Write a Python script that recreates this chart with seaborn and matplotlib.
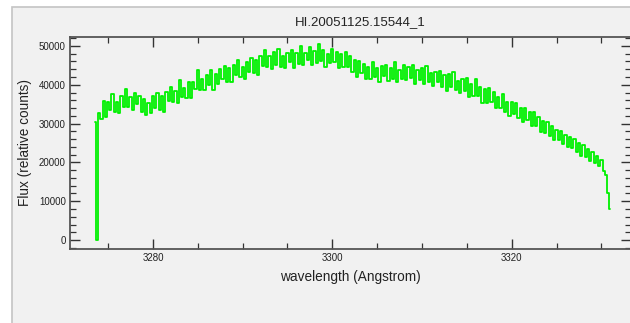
import matplotlib
matplotlib.use("Agg")
import matplotlib.pyplot as plt
from matplotlib.patches import Rectangle
from matplotlib.ticker import MultipleLocator
import seaborn as sns
import pandas as pd

title = "HI.20051125.15544_1"
xlabel = "wavelength (Angstrom)"
ylabel = "Flux (relative counts)"
xticks = [3280, 3300, 3320]
yticks = [0, 10000, 20000, 30000, 40000, 50000]

wavelength = [
    3273.50, 3273.75,
    3274.00, 3274.25, 3274.50, 3274.75,
    3275.00, 3275.25, 3275.50, 3275.75,
    3276.00, 3276.25, 3276.50, 3276.75,
    3277.00, 3277.25, 3277.50, 3277.75,
    3278.00, 3278.25, 3278.50, 3278.75,
    3279.00, 3279.25, 3279.50, 3279.75,
    3280.00, 3280.25, 3280.50, 3280.75,
    3281.00, 3281.25, 3281.50, 3281.75,
    3282.00, 3282.25, 3282.50, 3282.75,
    3283.00, 3283.25, 3283.50, 3283.75,
    3284.00, 3284.25, 3284.50, 3284.75,
    3285.00, 3285.25, 3285.50, 3285.75,
    3286.00, 3286.25, 3286.50, 3286.75,
    3287.00, 3287.25, 3287.50, 3287.75,
    3288.00, 3288.25, 3288.50, 3288.75,
    3289.00, 3289.25, 3289.50, 3289.75,
    3290.00, 3290.25, 3290.50, 3290.75,
    3291.00, 3291.25, 3291.50, 3291.75,
    3292.00, 3292.25, 3292.50, 3292.75,
    3293.00, 3293.25, 3293.50, 3293.75,
    3294.00, 3294.25, 3294.50, 3294.75,
    3295.00, 3295.25, 3295.50, 3295.75,
    3296.00, 3296.25, 3296.50, 3296.75,
    3297.00, 3297.25, 3297.50, 3297.75,
    3298.00, 3298.25, 3298.50, 3298.75,
    3299.00, 3299.25, 3299.50, 3299.75,
    3300.00, 3300.25, 3300.50, 3300.75,
    3301.00, 3301.25, 3301.50, 3301.75,
    3302.00, 3302.25, 3302.50, 3302.75,
    3303.00, 3303.25, 3303.50, 3303.75,
    3304.00, 3304.25, 3304.50, 3304.75,
    3305.00, 3305.25, 3305.50, 3305.75,
    3306.00, 3306.25, 3306.50, 3306.75,
    3307.00, 3307.25, 3307.50, 3307.75,
    3308.00, 3308.25, 3308.50, 3308.75,
    3309.00, 3309.25, 3309.50, 3309.75,
    3310.00, 3310.25, 3310.50, 3310.75,
    3311.00, 3311.25, 3311.50, 3311.75,
    3312.00, 3312.25, 3312.50, 3312.75,
    3313.00, 3313.25, 3313.50, 3313.75,
    3314.00, 3314.25, 3314.50, 3314.75,
    3315.00, 3315.25, 3315.50, 3315.75,
    3316.00, 3316.25, 3316.50, 3316.75,
    3317.00, 3317.25, 3317.50, 3317.75,
    3318.00, 3318.25, 3318.50, 3318.75,
    3319.00, 3319.25, 3319.50, 3319.75,
    3320.00, 3320.25, 3320.50, 3320.75,
    3321.00, 3321.25, 3321.50, 3321.75,
    3322.00, 3322.25, 3322.50, 3322.75,
    3323.00, 3323.25, 3323.50, 3323.75,
    3324.00, 3324.25, 3324.50, 3324.75,
    3325.00, 3325.25, 3325.50, 3325.75,
    3326.00, 3326.25, 3326.50, 3326.75,
    3327.00, 3327.25, 3327.50, 3327.75,
    3328.00, 3328.25, 3328.50, 3328.75,
    3329.00, 3329.25, 3329.50, 3329.75,
    3330.00, 3330.25, 3330.50, 3330.75,
    3331.00,
]

flux = [
    30500, 0,
    32800, 31100, 35900, 31800,
    35500, 33600, 37500, 33000,
    35600, 32800, 37200, 34400,
    38900, 34200, 36900, 33400,
    37800, 35100, 37100, 33100,
    36300, 32100, 35400, 32800,
    37000, 34000, 37800, 33500,
    37100, 33000, 38100, 35800,
    39300, 35600, 38500, 35400,
    41100, 36900, 39100, 36700,
    40800, 36600, 40700, 38800,
    43700, 38600, 41400, 38600,
    42500, 39900, 43900, 38700,
    42700, 40200, 44000, 41600,
    44900, 40700, 44300, 40700,
    45100, 42400, 46400, 41900,
    44700, 41500, 45900, 43300,
    46900, 42900, 46300, 42500,
    47300, 44900, 48900, 44500,
    47300, 44100, 48400, 45200,
    49100, 44700, 47400, 44300,
    48300, 45800, 49000, 44300,
    48200, 45400, 49900, 45100,
    48200, 46400, 49700, 45100,
    48700, 45500, 50400, 46000,
    49000, 44600, 47900, 45500,
    49200, 45900, 48400, 44300,
    47800, 44700, 48400, 44700,
    47500, 43300, 46300, 42100,
    46200, 43000, 45400, 41400,
    44700, 41600, 45900, 42000,
    44200, 40700, 44800, 42200,
    45200, 41000, 44200, 41400,
    45800, 40800, 43800, 41600,
    45000, 41100, 44500, 41800,
    45200, 40100, 43800, 41300,
    44200, 40300, 44800, 40700,
    42900, 39600, 43200, 40700,
    43500, 39400, 42400, 38500,
    42700, 39400, 43200, 38600,
    41000, 37900, 41500, 38500,
    41700, 36900, 40100, 37100,
    41400, 37000, 39500, 35200,
    38800, 35300, 39100, 35600,
    38100, 34000, 36900, 34000,
    37500, 33000, 35500, 32000,
    35600, 32500, 35400, 31500,
    34000, 30500, 34000, 30900,
    33000, 29400, 32900, 29300,
    31700, 27800, 30600, 27600,
    30500, 26700, 29300, 25800,
    28400, 25900, 28100, 24800,
    27000, 23900, 26600, 23600,
    26000, 22700, 24900, 21700,
    24400, 21400, 23400, 20400,
    22700, 19900, 21700, 19000,
    20500, 17700, 16800, 12100,
    8000,
]

n = min(len(wavelength), len(flux))
df = pd.DataFrame({"wavelength": wavelength[:n], "flux": flux[:n]})

sns.set_theme(style="ticks")
plt.rcParams["font.family"] = ["Liberation Sans", "DejaVu Sans"]

W, H = 630, 323
fig = plt.figure(figsize=(W / 100, H / 100), dpi=100)
fig.patch.set_facecolor("white")

panel_color = "#f1f1f1"
panel = Rectangle((12 / W, -0.05), 1.0, 1 - 7 / H + 0.05,
                  transform=fig.transFigure, facecolor=panel_color,
                  edgecolor="#c4c4c4", linewidth=1.2, zorder=-10)
fig.patches.append(panel)

ax = fig.add_axes([70 / W, 1 - 249 / H, 561 / W, 212 / H])
ax.set_zorder(1)
ax.set_facecolor(panel_color)

sns.lineplot(data=df, x="wavelength", y="flux", ax=ax, color="#00f000",
             linewidth=1.3, drawstyle="steps-mid", estimator=None, sort=False)

ax.set_xlim(3270.75, 3333.3)
ax.set_ylim(-2300, 52300)
ax.set_xticks(xticks)
ax.set_yticks(yticks)
ax.xaxis.set_minor_locator(MultipleLocator(5))
ax.yaxis.set_minor_locator(MultipleLocator(2000))
ax.tick_params(which="both", direction="in", top=True, right=True,
               colors="#333333", labelcolor="#222222", labelsize=7, pad=3)
ax.tick_params(which="major", length=7, width=1.0)
ax.tick_params(which="minor", length=4, width=0.9)
for s in ax.spines.values():
    s.set_color("#555555")
    s.set_linewidth(1.3)
    s.set_visible(True)

ax.set_xlabel(xlabel, fontsize=9.8, color="#222222", labelpad=5)
ax.set_ylabel(ylabel, fontsize=9.8, color="#222222", labelpad=5)
fig.text(360 / W, 1 - 22 / H, title, ha="center", va="center",
         fontsize=9.5, color="#222222")

fig.savefig("out.png", dpi=100, facecolor=fig.get_facecolor())
